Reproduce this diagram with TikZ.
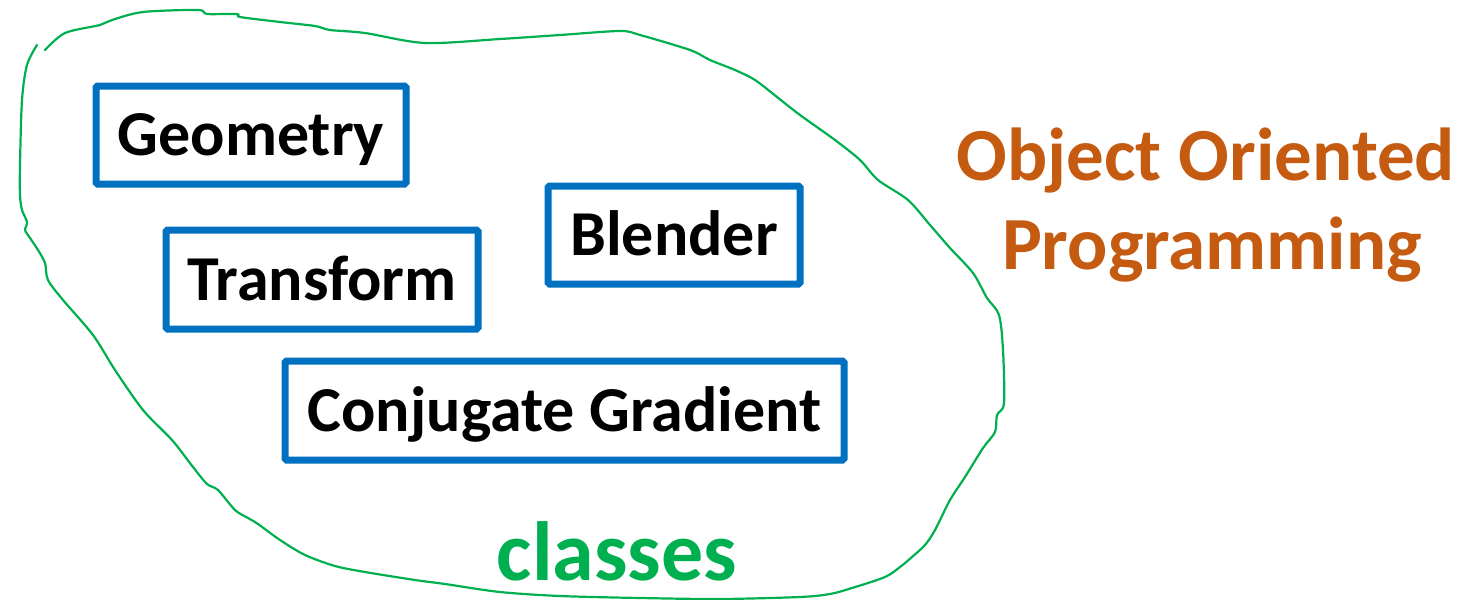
\documentclass[tikz,border=0pt]{standalone}
\usepackage{fontspec}
\setmainfont{Carlito}
\definecolor{boxblue}{HTML}{0070C0}
\definecolor{oopor}{HTML}{C55A11}
\definecolor{blobgreen}{HTML}{00B050}
\begin{document}
\begin{tikzpicture}[x=1pt,y=-1pt,
  classbox/.style={draw=boxblue,line width=7pt,rounded corners=1.5pt,inner sep=0pt,
    text height=41pt,text depth=0pt,font=\fontsize{64}{77}\selectfont\bfseries},
  blob/.style={draw=blobgreen,line width=2.2pt,line cap=round,line join=round}]
\useasboundingbox (0,0) rectangle (1468,600);
\draw[blob] plot[smooth,tension=0.5] coordinates {
 (45,50) (65,33) (100,25) (112,20) (143,12) (198,10) (207,14) (237,14) (240,17)
 (280,22) (315,26) (330,30) (365,33) (425,43) (500,39) (560,35) (620,31) (640,35)
 (690,50) (710,60) (735,70) (755,80) (777,97) (800,115) (835,140) (860,160)
 (878,180) (908,200) (930,225) (950,248) (973,273) (987,298) (999,315) (1003,350)
 (1004,403) (997,415) (995,432) (983,448) (965,477) (950,500) (935,530) (925,545)
 (912,557) (900,567) (885,577) (852,588) (830,594) (800,597) (720,599) (640,598)
 (560,596) (500,592) (445,584) (415,580) (365,572) (335,566) (305,555) (280,540)
 (258,524) (248,518) (235,510) (218,490) (207,484) (193,467) (172,440) (143,410)
 (115,370) (93,335) (63,300) (48,280) (45,263) (38,250) (28,235) (25,230) (27,222)
 (22,210) (20,195) (20,165) (22,100) (27,65) (37,45)};
\node[classbox,minimum width=310pt,minimum height=98pt] (geo) at (251,135) {Geometry};
\node[classbox,minimum width=312pt,minimum height=99pt] (tra) at (322,279.5) {Transform};
\node[classbox,minimum width=252pt,minimum height=98pt] (ble) at (674,235) {Blender};
\node[classbox,minimum width=559pt,minimum height=99pt] (cg) at (564.5,410.5) {Conjugate Gradient};
\node[anchor=base,text=blobgreen,font=\fontsize{84}{100}\selectfont\bfseries] (cls) at (617,580) {classes};
\node[anchor=base,text=oopor,font=\fontsize{75}{89}\selectfont\bfseries] (oop1) at (1206,180) {Object Oriented};
\node[anchor=base,text=oopor,font=\fontsize{75}{89}\selectfont\bfseries] (oop2) at (1212,269) {Programming};
\end{tikzpicture}
\end{document}
